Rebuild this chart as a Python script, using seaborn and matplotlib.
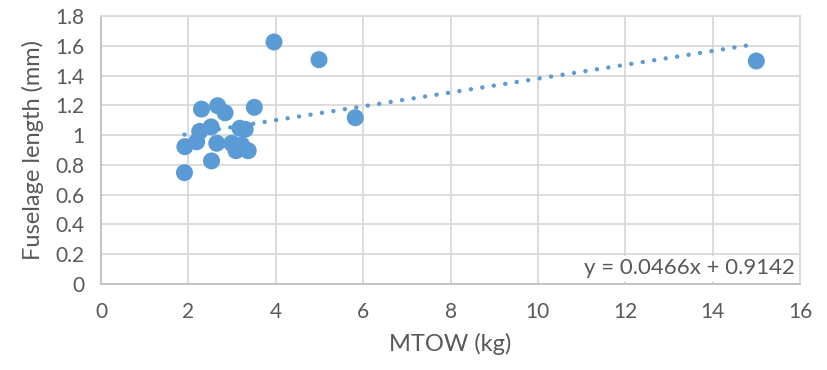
import numpy as np
import pandas as pd
import matplotlib
matplotlib.use("Agg")
import matplotlib.pyplot as plt
import seaborn as sns

# Data
mtow = [1.91, 1.92, 2.19, 2.26, 2.30, 2.52, 2.53, 2.65, 2.67, 2.84,
        2.99, 3.09, 3.18, 3.22, 3.30, 3.37, 3.51, 3.96, 4.99, 5.82, 15.0]
fuselage = [0.747, 0.922, 0.955, 1.025, 1.175, 1.055, 0.826, 0.945, 1.198, 1.150,
            0.945, 0.895, 1.046, 0.933, 1.039, 0.895, 1.187, 1.627, 1.508, 1.117, 1.499]
slope = 0.0466
intercept = 0.9142
x_ticks = [0, 2, 4, 6, 8, 10, 12, 14, 16]
y_ticks = [0, 0.2, 0.4, 0.6, 0.8, 1.0, 1.2, 1.4, 1.6, 1.8]
y_tick_labels = ["0", "0.2", "0.4", "0.6", "0.8", "1", "1.2", "1.4", "1.6", "1.8"]

df = pd.DataFrame({"MTOW": mtow, "Fuselage": fuselage})

sns.set_theme(style="white")
plt.rcParams["font.family"] = ["Lato", "DejaVu Sans"]

blue = "#5B9BD5"
grey_text = "#595959"
grid_c = "#D9D9D9"

fig = plt.figure(figsize=(8.27, 3.70), dpi=100)
ax = fig.add_axes([101/827, 1 - 283.6/370, (800 - 101)/827, (283.6 - 16.3)/370])

sns.scatterplot(data=df, x="MTOW", y="Fuselage", ax=ax, color=blue, s=150,
                edgecolor="none", zorder=3, legend=False)

xl = np.array([min(mtow), max(mtow)])
ax.plot(xl, slope * xl + intercept, color=blue, linestyle=(0, (0.01, 2.6)),
        linewidth=3.2, dash_capstyle="round", zorder=4)

ax.set_xlim(0, 16)
ax.set_ylim(0, 1.8)
ax.set_xticks(x_ticks)
ax.set_yticks(y_ticks)
ax.set_yticklabels(y_tick_labels)
ax.grid(True, color=grid_c, linewidth=1.3, zorder=0)
ax.set_axisbelow(True)
for s in ax.spines.values():
    s.set_color(grid_c)
    s.set_linewidth(1.3)
ax.spines["left"].set_color("#BFBFBF")
ax.spines["bottom"].set_color("#BFBFBF")
ax.tick_params(axis="both", length=0, labelsize=15, colors=grey_text, pad=12)
ax.tick_params(axis="x", pad=13)

ax.set_xlabel("MTOW (kg)", fontsize=17, color=grey_text, labelpad=8)
ax.set_ylabel("Fuselage length (mm)", fontsize=17, color=grey_text, labelpad=8)

ax.text(0.993, 0.02, f"y = {slope}x + {intercept}", transform=ax.transAxes,
        ha="right", va="bottom", fontsize=16, color=grey_text, zorder=5,
        bbox=dict(facecolor="white", edgecolor="none", pad=2))

fig.savefig("out.png", dpi=100)
